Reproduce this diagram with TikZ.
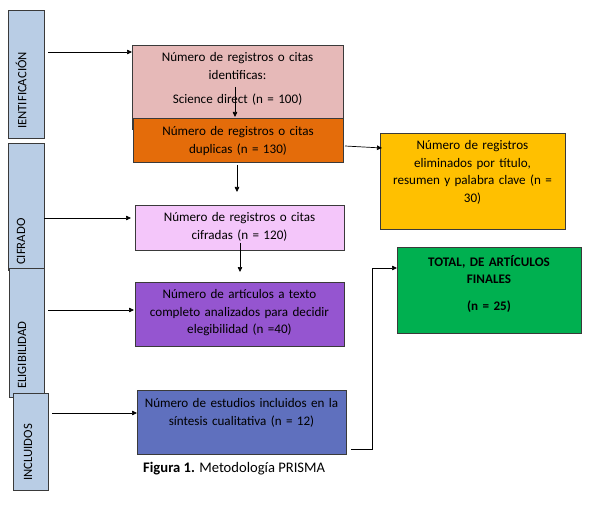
\documentclass[tikz,border=0pt]{standalone}
\usepackage{fontspec}
\setmainfont{Carlito}
\usetikzlibrary{arrows.meta}
\definecolor{barblue}{HTML}{B9CDE5}
\definecolor{pinkbox}{HTML}{E6B9B8}
\definecolor{orangebox}{HTML}{E46C0A}
\definecolor{lavbox}{HTML}{F4C6FA}
\definecolor{purplebox}{HTML}{9555D0}
\definecolor{bluebox}{HTML}{5F70BE}
\definecolor{yellowbox}{HTML}{FFC000}
\definecolor{greenbox}{HTML}{00B050}
\definecolor{edge}{HTML}{3A3A3A}
\tikzset{
  x=1pt, y=-1pt,
  bar/.style={draw=edge, line width=0.8pt, fill=barblue},
  boxshape/.style={draw=edge, line width=0.8pt},
  bartext/.style={rotate=90, anchor=west, font=\fontsize{12.7}{15}\selectfont, inner sep=0pt},
  boxtext/.style={anchor=north, align=center, font=\fontsize{13.1}{17.8}\selectfont, inner sep=0pt, text width=215pt},
  arr/.style={-{Triangle[length=5pt,width=4.5pt]}, line width=0.7pt, black},
}
\begin{document}
\begin{tikzpicture}
\useasboundingbox (0,0) rectangle (589,505);
% side bars
\path[bar] (8,10) rectangle (44,138);
\node[bartext] (t1) at (21,129) {IENTIFICACIÓN};
\path[bar] (8,143) rectangle (44,270);
\node[bartext] (t2) at (21,265) {CIFRADO};
\path[bar] (9,268) rectangle (44,397);
\node[bartext] (t3) at (22,389) {ELIGIBILIDAD};
\path[bar] (13,393) rectangle (48,490);
\node[bartext] (t4) at (28,481) {INCLUIDOS};

% boxes
\path[boxshape, fill=pinkbox] (132,45) rectangle (343,129);
\node[boxtext] (p) at (237.5,52) {Número de registros o citas\\identificas:\\[7pt]Science direct (n = 100)};
\path[boxshape, fill=orangebox] (133,118) rectangle (343,162);
\node[boxtext] (o) at (238,126) {Número de registros o citas\\duplicas (n = 130)};
\path[boxshape, fill=lavbox] (135,205) rectangle (344,250);
\node[boxtext] (l) at (239.5,212) {Número de registros o citas\\cifradas (n = 120)};
\path[boxshape, fill=purplebox] (135,282) rectangle (344,346);
\node[boxtext] (pu) at (239.5,289) {Número de artículos a texto\\completo analizados para decidir\\elegibilidad (n =40)};
\path[boxshape, fill=bluebox] (137,390) rectangle (346,454);
\node[boxtext] (bl) at (241.5,398) {Número de estudios incluidos en la\\síntesis cualitativa (n = 12)};
\path[boxshape, fill=yellowbox] (380,133) rectangle (565,229);
\node[boxtext, text width=182pt] (y) at (472.5,140) {Número de registros\\eliminados por título,\\resumen y palabra clave (n =\\30)};
\path[boxshape, fill=greenbox] (397,247) rectangle (581,333);
\node[boxtext, font=\bfseries\fontsize{13.1}{17}\selectfont, text width=182pt] (g) at (489,255) {TOTAL, DE ARTÍCULOS\\FINALES\\[10pt](n = 25)};

% caption
\node[anchor=west, inner sep=0pt, font=\fontsize{14.6}{17}\selectfont] (cap) at (143,469) {\textbf{Figura 1.} Metodología PRISMA};

% connector end points
\coordinate (b1) at (48,52);
\coordinate (b2) at (44,218);
\coordinate (b3) at (48,310);
\coordinate (b4) at (52,413);
\coordinate (e1) at (132,52);
\coordinate (e2) at (131,218);
\coordinate (e3) at (134,310);
\coordinate (e4) at (137,413);
\coordinate (pa) at (235,87);
\coordinate (pb) at (235,117);
\coordinate (oa) at (237,165);
\coordinate (ob) at (237,192);
\coordinate (la) at (240,243);
\coordinate (lb) at (240,272);
\coordinate (oe) at (345,146);
\coordinate (ye) at (382,148);
\coordinate (be) at (351,449);
\coordinate (bk) at (372,449);
\coordinate (ge) at (397,268);

\draw[arr] (b1) -- (e1);
\draw[arr] (b2) -- (e2);
\draw[arr] (b3) -- (e3);
\draw[arr] (b4) -- (e4);
\draw[arr] (pa) -- (pb);
\draw[arr] (oa) -- (ob);
\draw[arr] (la) -- (lb);
\draw[arr] (oe) -- (ye);
\draw[arr] (be) -- (bk) |- (ge);
\end{tikzpicture}
\end{document}
